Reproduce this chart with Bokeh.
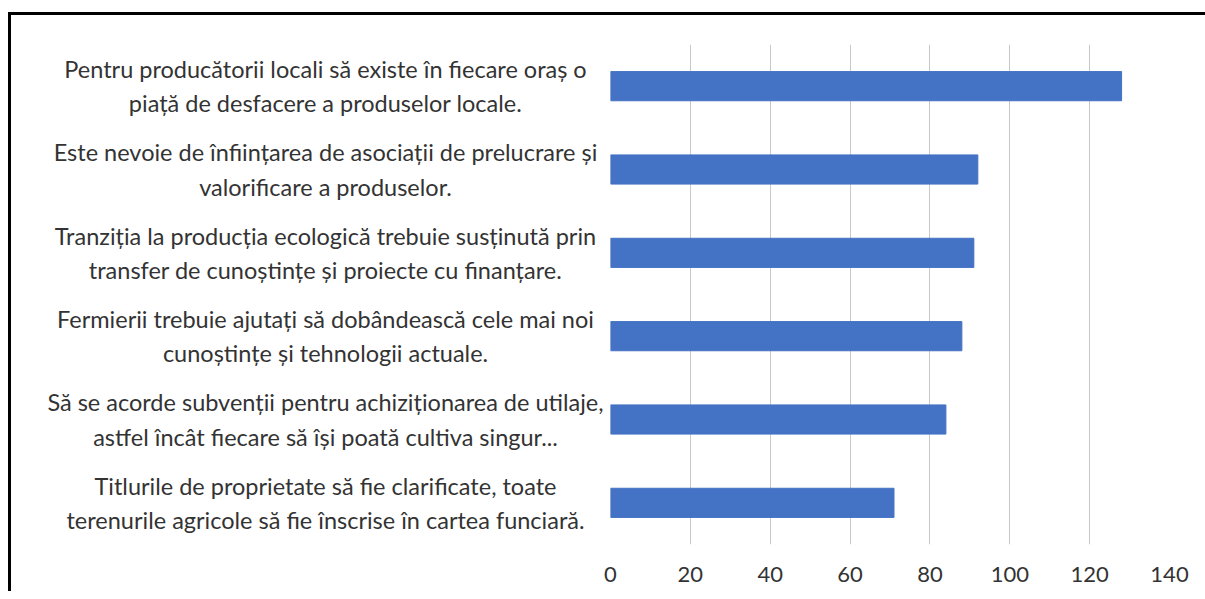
from bokeh.plotting import figure
from bokeh.layouts import row
from bokeh.models import FactorRange, Range1d, ColumnDataSource, FixedTicker
from bokeh.core.properties import value
from bokeh.embed import file_html
from bokeh.resources import INLINE

categories = [
    "Pentru producătorii locali să existe în fiecare oraș o\npiață de desfacere a produselor locale.",
    "Este nevoie de înființarea de asociații de prelucrare și\nvalorificare a produselor.",
    "Tranziția la producția ecologică trebuie susținută prin\ntransfer de cunoștințe și proiecte cu finanțare.",
    "Fermierii trebuie ajutați să dobândească cele mai noi\ncunoștințe și tehnologii actuale.",
    "Să se acorde subvenții pentru achiziționarea de utilaje,\nastfel încât fiecare să își poată cultiva singur...",
    "Titlurile de proprietate să fie clarificate, toate\nterenurile agricole să fie înscrise în cartea funciară.",
]
values = [128, 92, 91, 88, 84, 71]
x_ticks = [0, 20, 40, 60, 80, 100, 120, 140]

LABEL_CENTER = 314  # horizontal centre of the category labels in the label panel (px)

src = ColumnDataSource(dict(cat=categories, val=values,
                            lx=[LABEL_CENTER] * len(values)))
yr = FactorRange(factors=list(reversed(categories)), range_padding=0)

# label panel
lp = figure(width=592, height=576, y_range=yr, x_range=Range1d(0, 592),
            output_backend="svg", toolbar_location=None,
            min_border_left=0, min_border_right=0, min_border_top=29, min_border_bottom=47)
lp.axis.visible = False
lp.grid.visible = False
lp.outline_line_color = None
lp.text(x="lx", y="cat", text="cat", source=src,
        text_align="center", text_baseline="middle", text_font=value("Lato"),
        text_font_size="23.5px", text_color="#333333", text_line_height=1.23)

# bar panel
p = figure(
    width=602, height=576, y_range=yr, x_range=Range1d(0, 140),
    output_backend="svg", toolbar_location=None,
    min_border_left=7, min_border_right=36, min_border_top=29, min_border_bottom=47,
)
p.outline_line_color = None
p.hbar(y="cat", right="val", left=0, height=0.35, source=src,
       fill_color="#4472C4", line_color="#4472C4")

p.yaxis.visible = False
p.ygrid.grid_line_color = None
p.xgrid.grid_line_color = "#C8C8C8"
p.xgrid.grid_line_width = 1
p.xaxis.ticker = FixedTicker(ticks=x_ticks)
p.xaxis.axis_line_color = None
p.xaxis.major_tick_line_color = None
p.xaxis.minor_tick_line_color = None
p.xaxis.major_tick_out = 0
p.xaxis.major_label_standoff = 22
p.xaxis.major_label_text_font = "Lato"
p.xaxis.major_label_text_font_size = "22px"
p.xaxis.major_label_text_color = "#333333"

layout = row(lp, p, spacing=0)
layout.styles = {"margin-top": "12px", "margin-left": "8px",
                 "border-top": "3px solid black", "border-left": "3px solid black"}

open("out.html", "w").write(file_html(layout, INLINE))
